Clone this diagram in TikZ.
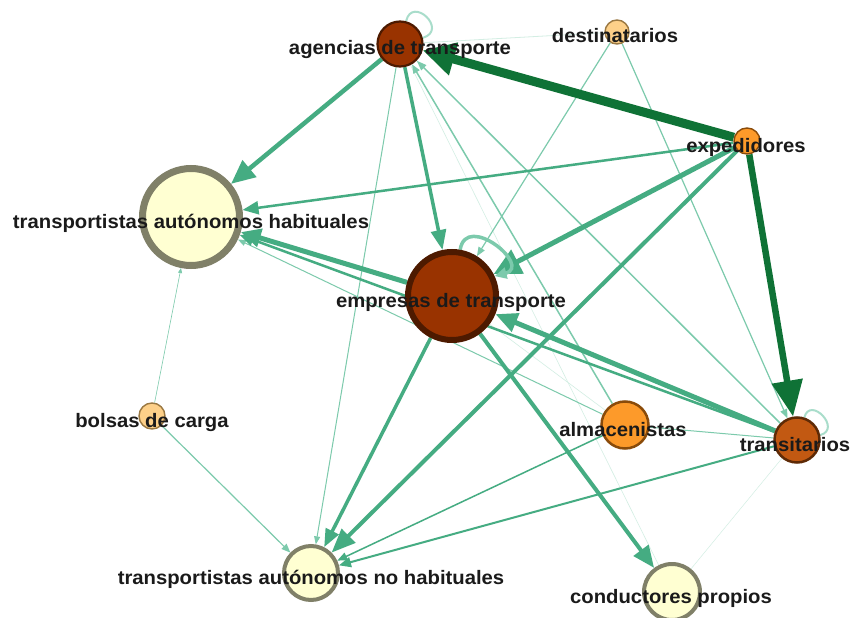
\documentclass[tikz,border=0pt]{standalone}
\usepackage{fontspec}
\usepackage{graphicx}
\setmainfont{Liberation Sans}
\usetikzlibrary{arrows.meta}
\pgfdeclarelayer{edges}
\pgfdeclarelayer{labels}
\pgfsetlayers{edges,main,labels}
\definecolor{cBrown}{HTML}{993300}
\definecolor{cBrownDk}{HTML}{4D1A00}
\definecolor{cTrans}{HTML}{C25912}
\definecolor{cTransDk}{HTML}{5E2A06}
\definecolor{cOrange}{HTML}{FD9A2A}
\definecolor{cOrangeDk}{HTML}{8A4B0A}
\definecolor{cPale}{HTML}{FDD089}
\definecolor{cPaleDk}{HTML}{9A7842}
\definecolor{cYellow}{HTML}{FFFFD2}
\definecolor{cGray}{HTML}{808068}
\definecolor{cMid}{HTML}{45AC82}
\definecolor{cLight}{HTML}{7CCAAC}
\definecolor{cFaint}{HTML}{D3EEE3}
\definecolor{cLoop}{HTML}{A9DDCB}
\definecolor{cDark}{HTML}{0F7236}
\definecolor{cText}{HTML}{1A1A1A}
\tikzset{
  vtx/.style n args={4}{circle, inner sep=0pt, minimum size=#1, line width=#2, fill=#3, draw=#4},
  lbl/.style={anchor=base, text=cText, inner sep=0pt, font=\bfseries\fontsize{19.5}{21}\selectfont},
  ed/.style n args={4}{line width=#1, draw=#4, -{Triangle[length=#2, width=#3, fill=#4]}},
  plain/.style n args={2}{line width=#1, draw=#2},
}
\newcommand{\wlab}[1]{\scalebox{1.04}[1]{#1}}
\begin{document}
\begin{tikzpicture}[x=1pt, y=-1pt]
\useasboundingbox (0,0) rectangle (852,618);
% nodes
\node[vtx={45pt}{2.2pt}{cBrown}{cBrownDk}] (ag) at (400,44) {};
\node[vtx={24pt}{1.4pt}{cPale}{cPaleDk}] (de) at (617,32) {};
\node[vtx={26pt}{1.4pt}{cOrange}{cOrangeDk}] (ex) at (747,141) {};
\node[vtx={97pt}{7pt}{cYellow}{cGray}] (ha) at (191,217) {};
\node[vtx={88pt}{6pt}{cBrown}{cBrownDk}] (em) at (452,296) {};
\node[vtx={26pt}{1.4pt}{cPale}{cPaleDk}] (bo) at (152,416) {};
\node[vtx={47pt}{2.5pt}{cOrange}{cOrangeDk}] (al) at (625,425) {};
\node[vtx={45pt}{2.5pt}{cTrans}{cTransDk}] (tr) at (797,440) {};
\node[vtx={54pt}{4pt}{cYellow}{cGray}] (nh) at (311,573) {};
\node[vtx={56pt}{4pt}{cYellow}{cGray}] (co) at (672,592) {};
% edges
\begin{pgfonlayer}{edges}
\fill[white] (0,0) rectangle (852,618);
\draw[plain={0.6pt}{cFaint}] (ag) -- (co);
\draw[plain={0.5pt}{cFaint}] (tr) -- (co);
\draw[plain={0.6pt}{cFaint}] (em) -- (al);
\draw[plain={0.8pt}{cFaint}] (de) -- (ag);
\draw[plain={1pt}{cLight}] (al) -- (tr);
\draw[ed={0.6pt}{5pt}{4pt}{cLight}] (bo) -- (ha);
\draw[ed={1.2pt}{9pt}{7pt}{cLight}] (bo) -- (nh);
\draw[ed={1.2pt}{9pt}{7pt}{cLight}] (de) -- (em);
\draw[ed={1.2pt}{9pt}{7pt}{cLight}] (de) -- (tr);
\draw[ed={1pt}{8pt}{6pt}{cLight}] (ag) -- (nh);
\draw[ed={1pt}{8pt}{6pt}{cLight}] (al) -- (ha);
\draw[ed={1.5pt}{9pt}{7pt}{cLight}] (al) -- (ag);
\draw[ed={1.5pt}{10pt}{8pt}{cMid}] (al) -- (nh);
\draw[ed={1.5pt}{10pt}{7pt}{cLight}] (tr) -- (ag);
\draw[ed={2pt}{12pt}{10pt}{cMid}] (tr) -- (nh);
\draw[ed={2.5pt}{14pt}{12pt}{cMid}] (tr) -- (ha);
\draw[ed={2.5pt}{16pt}{13pt}{cMid}] (ex) -- (ha);
\draw[ed={3.5pt}{18pt}{14pt}{cMid}] (em) -- (nh);
\draw[ed={3.5pt}{20pt}{15pt}{cMid}] (ag) -- (em);
\draw[ed={4pt}{22pt}{18pt}{cMid}] (em) -- (co);
\draw[ed={4.5pt}{24pt}{21pt}{cMid}] (ag) -- (ha);
\draw[ed={4pt}{24pt}{19pt}{cMid}] (ex) -- (nh);
\draw[ed={5pt}{20pt}{18pt}{cMid}] (em) -- (ha);
\draw[ed={5pt}{22pt}{19pt}{cMid}] (tr) -- (em);
\draw[ed={5pt}{27pt}{26pt}{cMid}] (ex) -- (em);
\draw[ed={6.5pt}{36pt}{30pt}{cDark}] (ex) -- (tr);
\draw[ed={9pt}{32pt}{32pt}{cDark}] (ex) -- (ag);
% self loops
\draw[plain={2pt}{cLoop}] (ag.75) .. controls +(6,-26) and +(26,-8) .. (ag.15);
\draw[plain={2pt}{cLoop}] (tr.72) .. controls +(6,-22) and +(22,-6) .. (tr.12);
\draw[line width=3.5pt, draw=cLight, -{Triangle[length=12pt, width=11pt, fill=cLight]}] (em.80) .. controls +(6,-38) and +(38,-10) .. (em.25);
\end{pgfonlayer}
% labels
\begin{pgfonlayer}{labels}
\node[lbl] (lag) at (400,55) {\wlab{agencias de transporte}};
\node[lbl] (lde) at (615,43) {\wlab{destinatarios}};
\node[lbl] (lex) at (746,152) {\wlab{expedidores}};
\node[lbl] (lha) at (191,228) {\wlab{transportistas autónomos habituales}};
\node[lbl] (lem) at (451,307) {\wlab{empresas de transporte}};
\node[lbl] (lbo) at (152,427) {\wlab{bolsas de carga}};
\node[lbl] (lal) at (623,436) {\wlab{almacenistas}};
\node[lbl] (ltr) at (795,451) {\wlab{transitarios}};
\node[lbl] (lnh) at (311,584) {\wlab{transportistas autónomos no habituales}};
\node[lbl] (lco) at (671,603) {\wlab{conductores propios}};
\end{pgfonlayer}
\end{tikzpicture}
\end{document}
